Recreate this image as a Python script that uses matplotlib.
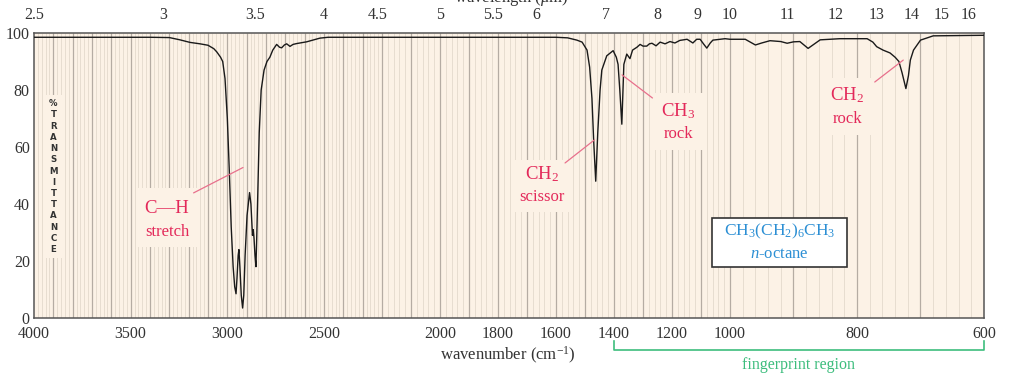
import numpy as np
import matplotlib
matplotlib.use('Agg')
import matplotlib.pyplot as plt
from matplotlib.patches import Rectangle

# ---------------- data ----------------
wavenumber = [4000, 3800, 3600, 3400, 3300, 3245, 3193, 3141, 3100, 3070, 3055, 3035, 3024, 3012,
              3000, 2990, 2980, 2970, 2962, 2955, 2950, 2944, 2940, 2935, 2928, 2921, 2915, 2908,
              2898, 2885, 2878, 2870, 2866, 2862, 2857, 2852, 2848, 2842, 2835, 2825, 2810, 2795,
              2780, 2765, 2745, 2730, 2719, 2705, 2693, 2676, 2660, 2641, 2590, 2521, 2479, 2300,
              2000, 1700, 1600, 1560, 1528, 1510, 1493, 1484, 1476, 1470, 1463, 1456, 1448, 1442,
              1425, 1403, 1392, 1386, 1380, 1373, 1369, 1366, 1356, 1345, 1336, 1321, 1310, 1300,
              1287, 1278, 1269, 1255, 1241, 1224, 1207, 1190, 1173, 1148, 1128, 1115, 1103, 1090,
              1080, 1068, 1059, 1017, 1000, 976, 960, 950, 937, 920, 910, 900, 890, 877, 868, 858,
              827, 784, 775, 769, 759, 748, 740, 734, 729, 723, 719, 716, 711, 700, 680, 600]
transmittance = [98.5, 98.5, 98.5, 98.5, 98.4, 97.6, 96.7, 96.2, 95.7, 94.5, 93.4, 91.5, 90, 84,
                 70, 52, 32, 18, 11, 8.5, 14, 22, 24, 18, 8, 3.5, 8, 22,
                 36, 44, 40, 29, 31, 28, 22, 18, 28, 45, 65, 80, 87, 90,
                 91.5, 94, 96, 95, 94.8, 95.8, 96.2, 95.3, 96, 96.3, 96.9, 98.2, 98.5, 98.5,
                 98.5, 98.5, 98.5, 98.3, 97.5, 96.8, 94, 88, 77, 62, 48, 65, 80, 87,
                 92, 93.8, 91.5, 89, 80, 68, 80, 89, 92.6, 91, 94, 95, 96, 95.4,
                 95.4, 96.2, 96.4, 95.5, 96.8, 96.2, 97, 96.5, 97.4, 97.8, 96.5, 97.8, 97.8, 96,
                 94.7, 96.5, 97.5, 98, 97.8, 97.8, 95.8, 96.5, 97.3, 97, 96.4, 96.9, 97, 94.6, 96, 97.6,
                 98, 98, 96.8, 95.2, 94, 93, 91.5, 90, 86, 80.5, 85, 90.5, 94, 97.5, 99, 99.2]

x_tick_values = [4000, 3500, 3000, 2500, 2000, 1800, 1600, 1400, 1200, 1000, 800, 600]
y_tick_values = [0, 20, 40, 60, 80, 100]
wavelength_ticks = [2.5, 3, 3.5, 4, 4.5, 5, 5.5, 6, 7, 8, 9, 10, 11, 12, 13, 14, 15, 16]
wavelength_labels = ['2.5', '3', '3.5', '4', '4.5', '5', '5.5', '6', '7', '8', '9', '10',
                     '11', '12', '13', '14', '15', '16']

# ---------------- piecewise-linear wavenumber scale ----------------
BW = np.array([600.0, 1000.0, 2200.0, 4000.0])
BU = np.array([0.0, 254.0, 602.0, 950.0])
S0 = (BU[1] - BU[0]) / (BW[1] - BW[0])
S1 = (BU[-1] - BU[-2]) / (BW[-1] - BW[-2])


def fwd(w):
    w = np.asarray(w, dtype=float)
    out = np.interp(w, BW, BU)
    out = np.where(w < BW[0], BU[0] + (w - BW[0]) * S0, out)
    out = np.where(w > BW[-1], BU[-1] + (w - BW[-1]) * S1, out)
    return out


def inv(u):
    u = np.asarray(u, dtype=float)
    out = np.interp(u, BU, BW)
    out = np.where(u < BU[0], BW[0] + (u - BU[0]) / S0, out)
    out = np.where(u > BU[-1], BW[-1] + (u - BU[-1]) / S1, out)
    return out


plt.rcParams['mathtext.fontset'] = 'custom'
plt.rcParams['mathtext.rm'] = 'Liberation Serif'
plt.rcParams['mathtext.it'] = 'Liberation Serif:italic'
plt.rcParams['mathtext.bf'] = 'Liberation Serif:bold'
SERIF = 'Liberation Serif'

BG = '#fcf2e6'
RED = '#e3295a'
LEAD = '#e8708c'
BLUE = '#2c8fd4'
GREEN = '#3dbd7d'

fig = plt.figure(figsize=(10.12, 3.9), dpi=100)
ax = fig.add_axes([34 / 1012, 1 - 318 / 390, 950 / 1012, 285 / 390])
ax.set_xscale('function', functions=(fwd, inv))
ax.set_xlim(4000, 600)
ax.set_ylim(0, 100)
ax.set_facecolor(BG)

# grid lines (decoration)
minor_w = np.arange(620, 4000, 20)
major_w = np.arange(700, 4000, 100)
ax.vlines(minor_w, 0, 100, colors='#e4d9cc', linewidth=0.6, zorder=0.5)
ax.vlines(major_w, 0, 100, colors='#b5aca3', linewidth=0.9, zorder=0.6)

# spectrum
ax.plot(wavenumber, transmittance, color='#1a1a1a', linewidth=1.0, zorder=3)

# ticks
ax.set_xticks(x_tick_values)
ax.set_xticklabels([str(v) for v in x_tick_values], fontfamily=SERIF, fontsize=11.5)
ax.set_yticks(y_tick_values)
ax.set_yticklabels([str(v) for v in y_tick_values], fontfamily=SERIF, fontsize=11.5)
ax.tick_params(axis='x', length=0, pad=6, colors='#333333')
ax.tick_params(axis='y', length=0, pad=3, colors='#333333')
for sp in ax.spines.values():
    sp.set_color('#555555')
    sp.set_linewidth(1.1)

ax2 = ax.twiny()
ax2.set_xscale('function', functions=(fwd, inv))
ax2.set_xlim(ax.get_xlim())
ax2.set_xticks([10000.0 / l for l in wavelength_ticks])
ax2.set_xticklabels(wavelength_labels, fontfamily=SERIF, fontsize=11.5)
ax2.tick_params(axis='x', length=0, pad=7, colors='#333333')
for sp in ax2.spines.values():
    sp.set_visible(False)

# axis titles
ax.text(1766, -0.13, r'wavenumber (cm$^{-1}$)', transform=ax.get_xaxis_transform(),
        ha='center', va='center', fontfamily=SERIF, fontsize=12, color='#333333')
fig.text((511) / 1012, 1 - 1.5 / 390, r'wavelength ($\mu$m)', ha='center', va='baseline',
         fontfamily=SERIF, fontsize=12, color='#333333')

# %TRANSMITTANCE vertical label
ax.add_patch(Rectangle((0.012, 0.21), 0.0175, 0.572, transform=ax.transAxes,
                       facecolor=BG, edgecolor='none', zorder=2))
ax.text(0.0205, 0.496, '\n'.join('%TRANSMITTANCE'), transform=ax.transAxes,
        ha='center', va='center', fontfamily='DejaVu Sans', fontweight='bold',
        fontsize=6.2, linespacing=1.32, color='#333333', zorder=4)


def label_box(x0, x1, y0, y1, top, bottom, ty, by, tsize=13.5, bsize=12, color=RED):
    ax.add_patch(Rectangle((x0, y0), x1 - x0, y1 - y0, transform=ax.transAxes,
                           facecolor=BG, edgecolor='none', zorder=2))
    cx = (x0 + x1) / 2
    ax.text(cx, ty, top, transform=ax.transAxes, ha='center', va='center',
            fontfamily=SERIF, fontsize=tsize, color=color, zorder=4)
    ax.text(cx, by, bottom, transform=ax.transAxes, ha='center', va='center',
            fontfamily=SERIF, fontsize=bsize, color=color, zorder=4)


def leader(p0, p1):
    ax.annotate('', xy=p1, xytext=p0, xycoords='axes fraction', textcoords='axes fraction',
                arrowprops=dict(arrowstyle='-', color=LEAD, lw=0.9, shrinkA=0, shrinkB=0),
                zorder=4)


label_box(0.108, 0.172, 0.249, 0.456, 'C—H', 'stretch', 0.385, 0.302)
leader((0.168, 0.439), (0.220, 0.528))

label_box(0.503, 0.566, 0.372, 0.556, r'CH$_2$', 'scissor', 0.505, 0.425)
leader((0.559, 0.544), (0.590, 0.625))

label_box(0.648, 0.708, 0.589, 0.789, r'CH$_3$', 'rock', 0.726, 0.646)
leader((0.651, 0.772), (0.619, 0.853))

label_box(0.828, 0.884, 0.642, 0.842, r'CH$_2$', 'rock', 0.782, 0.698)
leader((0.885, 0.828), (0.915, 0.905))

# n-octane box
ax.add_patch(Rectangle((0.7137, 0.179), 0.1421, 0.172, transform=ax.transAxes,
                       facecolor='white', edgecolor='#333333', linewidth=1.2, zorder=2))
ax.text(0.7847, 0.305, r'CH$_3$(CH$_2$)$_6$CH$_3$', transform=ax.transAxes, ha='center',
        va='center', fontfamily=SERIF, fontsize=12.5, color=BLUE, zorder=4)
ax.text(0.7847, 0.226, r'$\mathit{n}$-octane', transform=ax.transAxes, ha='center',
        va='center', fontfamily=SERIF, fontsize=12, color=BLUE, zorder=4)

# fingerprint region bracket
xt = ax.get_xaxis_transform()
ax.plot([1400, 1400, 600, 600], [-0.081, -0.112, -0.112, -0.081], transform=xt,
        color=GREEN, linewidth=1.2, clip_on=False)
ax.text(fwd_inv_center := float(inv((fwd(1400) + fwd(600)) / 2)), -0.165,
        'fingerprint region', transform=xt, ha='center', va='center',
        fontfamily=SERIF, fontsize=11.5, color=GREEN)

fig.savefig('out.png', dpi=100, facecolor='white')
